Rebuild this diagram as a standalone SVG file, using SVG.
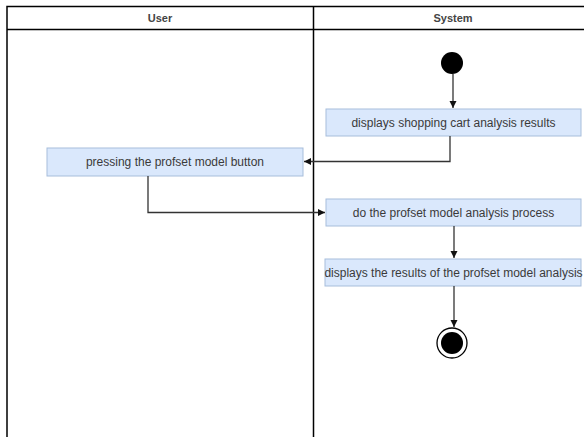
<svg xmlns="http://www.w3.org/2000/svg" width="584" height="437" viewBox="0 0 584 437">
<style>
.frame{fill:none;stroke:#000;stroke-width:1.5}
.hdr{font-family:"Liberation Sans",Arial,sans-serif;font-size:11px;font-weight:bold;fill:#444;text-anchor:middle}
.act{fill:#dae8fc;stroke:#a7bedb;stroke-width:1}
.lbl{font-family:"Liberation Sans",Arial,sans-serif;font-size:12px;fill:#3a3a3a;text-anchor:middle}
.edge{fill:none;stroke:#333;stroke-width:1.3}
</style>
<defs>
<marker id="arr" markerWidth="8" markerHeight="8" refX="7" refY="4" orient="auto" markerUnits="userSpaceOnUse">
<path d="M0,0.5 L7,4 L0,7.5 Z" fill="#111"/>
</marker>
</defs>
<rect width="584" height="437" fill="#fff"/>
<g id="lanes">
<path class="frame" d="M7,440 V6.5 H590 M7,29.5 H590 M313.5,6.5 V440"/>
<text class="hdr" x="160" y="22">User</text>
<text class="hdr" x="453" y="22">System</text>
</g>
<g id="start"><circle cx="452" cy="63" r="11" fill="#000"/></g>
<g id="a1"><rect class="act" x="326" y="109" width="255" height="27"/><text class="lbl" x="453.5" y="126.5">displays shopping cart analysis results</text></g>
<g id="a2"><rect class="act" x="47" y="148" width="256" height="28"/><text class="lbl" x="175" y="166">pressing the profset model button</text></g>
<g id="a3"><rect class="act" x="326" y="199" width="255" height="27"/><text class="lbl" x="453.5" y="216.5">do the profset model analysis process</text></g>
<g id="a4"><rect class="act" x="325" y="259" width="256" height="27"/><text class="lbl" x="453.5" y="276.5">displays the results of the profset model analysis</text></g>
<g id="end"><circle cx="452" cy="343" r="15" fill="#fff" stroke="#000" stroke-width="1.3"/><circle cx="452" cy="343" r="11" fill="#000"/></g>
<g id="connectors">
<path class="edge" d="M453,74 V108" marker-end="url(#arr)"/>
<path class="edge" d="M450,136 V161.5 H304" marker-end="url(#arr)"/>
<path class="edge" d="M148,176 V212.5 H325" marker-end="url(#arr)"/>
<path class="edge" d="M454,226 V258" marker-end="url(#arr)"/>
<path class="edge" d="M454,286 V327" marker-end="url(#arr)"/>
</g>
</svg>
